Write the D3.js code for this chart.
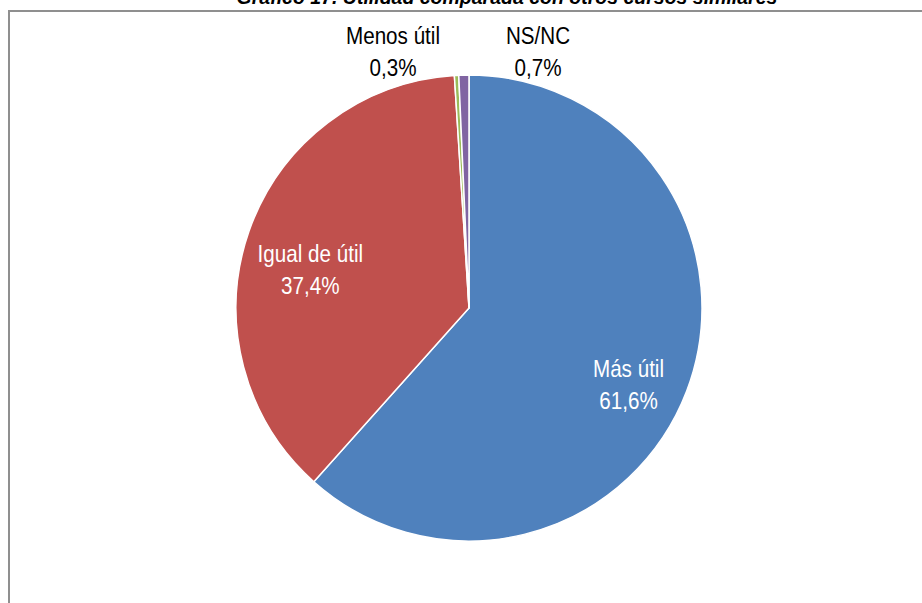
<!DOCTYPE html>
<html>
<head>
<meta charset="utf-8">
<script src="https://cdn.jsdelivr.net/npm/d3@7"></script>
<style>
  body { margin: 0; background: #fff; }
  svg { display: block; }
</style>
</head>
<body>
<script>
// data
var categories = ["Más útil", "Igual de útil", "Menos útil", "NS/NC"];
var values = [61.6, 37.4, 0.3, 0.7];
var valueLabels = ["61,6%", "37,4%", "0,3%", "0,7%"];
var colors = ["#4F81BD", "#C0504D", "#9BBB59", "#8064A2"];
var title = "Gráfico 17. Utilidad comparada con otros cursos similares";

var width = 922, height = 603;
var cx = 469, cy = 308, r = 233;
// Arial Narrow look-alike: regular sans squeezed horizontally
var labelFont = "'Liberation Sans', Arial, sans-serif";
var squeeze = 0.86;

var svg = d3.select("body").append("svg")
  .attr("width", width)
  .attr("height", height);

// title, cut at the top like the source
svg.append("text")
  .attr("x", 507)
  .attr("y", 4)
  .attr("text-anchor", "middle")
  .style("font-family", "'Liberation Sans', Arial, sans-serif")
  .style("font-weight", "bold")
  .style("font-style", "italic")
  .style("font-size", "19.5px")
  .text(title);

// chart frame
svg.append("rect")
  .attr("x", 9)
  .attr("y", 11)
  .attr("width", 930)
  .attr("height", 620)
  .attr("fill", "none")
  .attr("stroke", "#8f8f8f")
  .attr("stroke-width", 2);

var pie = d3.pie().sort(null).value(function(d) { return d; });
var arcs = pie(values);

var arc = d3.arc().innerRadius(0).outerRadius(r);

var g = svg.append("g").attr("transform", "translate(" + cx + "," + cy + ")");

g.selectAll("path")
  .data(arcs)
  .enter().append("path")
  .attr("d", arc)
  .attr("fill", function(d, i) { return colors[i]; })
  .attr("stroke", "#fff")
  .attr("stroke-width", 1.5)
  .attr("stroke-linejoin", "round");

// label placement: inside labels near the centroid, tiny slices spread above the pie
function labelPos(d, i) {
  if (i === 0) {
    return d3.arc().innerRadius(0).outerRadius(r * 1.52).centroid(
      { startAngle: d.startAngle, endAngle: d.endAngle + 0.17 });
  }
  if (i === 1) {
    return d3.arc().innerRadius(0).outerRadius(r * 1.4).centroid(
      { startAngle: d.startAngle - 0.2, endAngle: d.endAngle });
  }
  var dx = i === 2 ? -76 : 69;
  return [dx, -r - 23];
}

var labels = g.selectAll("g.lbl")
  .data(arcs)
  .enter().append("g")
  .attr("class", "lbl")
  .attr("transform", function(d, i) {
    var p = labelPos(d, i);
    return "translate(" + p[0] + "," + p[1] + ") scale(" + squeeze + ",1)";
  })
  .append("text")
  .attr("text-anchor", "middle")
  .style("font-family", labelFont)
  .style("font-size", "24px")
  .attr("fill", function(d, i) { return i < 2 ? "#fff" : "#000"; });

labels.append("tspan")
  .attr("x", 0)
  .attr("y", -8)
  .text(function(d, i) { return categories[i]; });

labels.append("tspan")
  .attr("x", 0)
  .attr("dy", 32)
  .text(function(d, i) { return valueLabels[i]; });
</script>
</body>
</html>
